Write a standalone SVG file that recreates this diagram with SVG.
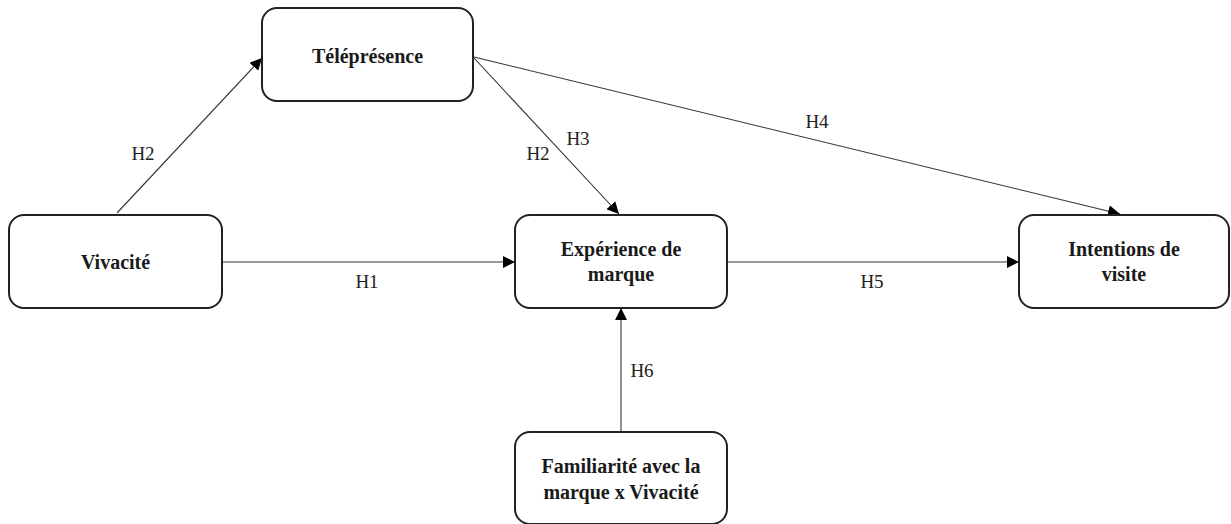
<svg xmlns="http://www.w3.org/2000/svg" width="1231" height="524" viewBox="0 0 1231 524">
<style>
.box{fill:#fff;stroke:#222;stroke-width:2}
.t{font-family:"Liberation Serif","Times New Roman",serif;font-weight:bold;font-size:20px;fill:#1a1a1a;text-anchor:middle}
.l{font-family:"Liberation Serif","Times New Roman",serif;font-size:19px;fill:#222;text-anchor:middle}
.c{stroke:#333;stroke-width:1.1;fill:none;marker-end:url(#ah)}
</style>
<defs>
<marker id="ah" viewBox="0 0 10 10" refX="10" refY="5" markerWidth="12" markerHeight="12" markerUnits="userSpaceOnUse" orient="auto">
<path d="M0,0 L10,5 L0,10 Z" fill="#000"/>
</marker>
</defs>
<rect width="1231" height="524" fill="#fff"/>
<g id="connectors">
<line class="c" x1="117" y1="213" x2="262" y2="58"/>
<line class="c" x1="474" y1="58" x2="619" y2="214"/>
<line class="c" x1="474" y1="57" x2="1120" y2="214"/>
<line class="c" x1="222" y1="262" x2="515" y2="262"/>
<line class="c" x1="727" y1="262" x2="1019" y2="262"/>
<line class="c" x1="621" y1="432" x2="621" y2="308"/>
<text class="l" x="143" y="160">H2</text>
<text class="l" x="538" y="160">H2</text>
<text class="l" x="578" y="145">H3</text>
<text class="l" x="817" y="128">H4</text>
<text class="l" x="367" y="288">H1</text>
<text class="l" x="872" y="288">H5</text>
<text class="l" x="642" y="377">H6</text>
</g>
<g id="telepresence">
<rect class="box" x="262" y="8" width="211" height="93" rx="15"/>
<text class="t" x="367.5" y="63">Téléprésence</text>
</g>
<g id="vivacite">
<rect class="box" x="9" y="215" width="213" height="93" rx="15"/>
<text class="t" x="115.5" y="269">Vivacité</text>
</g>
<g id="experience">
<rect class="box" x="515" y="215" width="212" height="93" rx="15"/>
<text class="t" x="621" y="256">Expérience de</text>
<text class="t" x="621" y="281">marque</text>
</g>
<g id="intentions">
<rect class="box" x="1019" y="215" width="210" height="93" rx="15"/>
<text class="t" x="1124" y="256">Intentions de</text>
<text class="t" x="1124" y="281">visite</text>
</g>
<g id="familiarite">
<rect class="box" x="515" y="432" width="212" height="92" rx="15"/>
<text class="t" x="621" y="473">Familiarité avec la</text>
<text class="t" x="621" y="499">marque x Vivacité</text>
</g>
</svg>
